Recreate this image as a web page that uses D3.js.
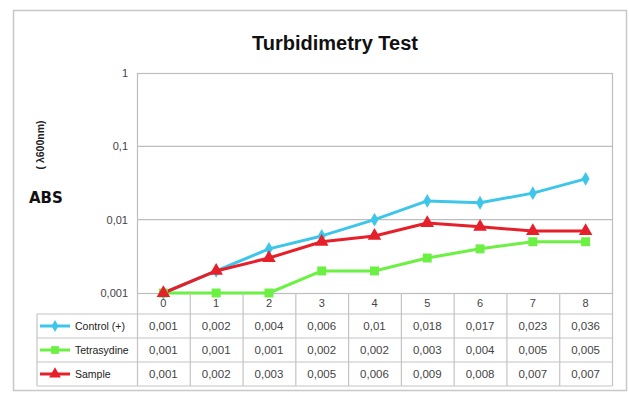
<!DOCTYPE html>
<html>
<head>
<meta charset="utf-8">
<script src="https://cdn.jsdelivr.net/npm/d3@7"></script>
<style>
  body { margin: 0; background: #fff; }
  svg { display: block; }
</style>
</head>
<body>
<svg id="chart" width="629" height="393"></svg>
<script>
const days = ["0", "1", "2", "3", "4", "5", "6", "7", "8"];
const control = [0.001, 0.002, 0.004, 0.006, 0.01, 0.018, 0.017, 0.023, 0.036];
const tetra = [0.001, 0.001, 0.001, 0.002, 0.002, 0.003, 0.004, 0.005, 0.005];
const sample = [0.001, 0.002, 0.003, 0.005, 0.006, 0.009, 0.008, 0.007, 0.007];
const seriesNames = ["Control  (+)", "Tetrasydine", "Sample"];
const yTicks = [0.001, 0.01, 0.1, 1];

const series = [
  { name: seriesNames[0], values: control, color: "#3ec6ea", shape: d3.symbolDiamond },
  { name: seriesNames[1], values: tetra, color: "#6cf043", shape: d3.symbolSquare },
  { name: seriesNames[2], values: sample, color: "#e5202a", shape: d3.symbolTriangle }
];

const svg = d3.select("#chart");
const plotL = 137, plotR = 612, plotT = 73, plotB = 293;

// outer frame
svg.append("rect")
  .attr("x", 13.5).attr("y", 10.5)
  .attr("width", 613).attr("height", 380)
  .attr("fill", "none").attr("stroke", "#c8c8c8").attr("stroke-width", 1.5);

const x = d3.scaleBand().domain(days).range([plotL, plotR]);
const y = d3.scaleLog().domain([0.001, 1]).range([plotB, plotT]);

// gridlines
svg.append("g")
  .selectAll("line")
  .data(yTicks.filter(t => t > 0.001 && t < 1))
  .join("line")
  .attr("x1", plotL).attr("x2", plotR)
  .attr("y1", d => y(d)).attr("y2", d => y(d))
  .attr("stroke", "#bdbdbd").attr("stroke-width", 1.2);

// plot border
svg.append("rect")
  .attr("x", plotL + 0.5).attr("y", plotT + 0.5)
  .attr("width", plotR - plotL).attr("height", plotB - plotT)
  .attr("fill", "none").attr("stroke", "#bdbdbd").attr("stroke-width", 1.2);

// y axis labels
svg.append("g")
  .selectAll("text")
  .data(yTicks)
  .join("text")
  .attr("x", 128)
  .attr("y", d => y(d))
  .attr("dy", "0.35em")
  .attr("text-anchor", "end")
  .attr("font-family", "Liberation Sans, Arial, sans-serif")
  .attr("font-size", 11)
  .attr("fill", "#444")
  .text(d => String(d).replace(".", ","));

// title
svg.append("text")
  .attr("x", 335).attr("y", 50)
  .attr("text-anchor", "middle")
  .attr("font-family", "Liberation Sans Narrow, Arial Narrow, sans-serif")
  .attr("font-weight", "bold")
  .attr("font-size", 20)
  .attr("fill", "#111")
  .text("Turbidimetry Test");

// axis title
svg.append("text")
  .attr("x", 29).attr("y", 203)
  .attr("font-family", "DejaVu Sans, sans-serif")
  .attr("font-weight", "bold")
  .attr("font-size", 15)
  .attr("fill", "#111")
  .text("ABS");

svg.append("text")
  .attr("transform", "translate(44,145) rotate(-90)")
  .attr("text-anchor", "middle")
  .attr("font-family", "Liberation Sans, Arial, sans-serif")
  .attr("font-weight", "bold")
  .attr("font-size", 10.5)
  .attr("fill", "#222")
  .text("( λ600nm)");

// lines and markers
const line = d3.line()
  .x((d, i) => x(days[i]) + x.bandwidth() / 2)
  .y(d => y(d));

series.forEach(s => {
  svg.append("path")
    .datum(s.values)
    .attr("fill", "none")
    .attr("stroke", s.color)
    .attr("stroke-width", 3)
    .attr("stroke-linejoin", "round")
    .attr("d", line);
});

series.forEach(s => {
  svg.append("g")
    .selectAll("path")
    .data(s.values)
    .join("path")
    .attr("transform", (d, i) => `translate(${x(days[i]) + x.bandwidth() / 2},${y(d)})`)
    .attr("d", d3.symbol().type(s.shape).size(s.shape === d3.symbolDiamond ? 55 : 80))
    .attr("fill", s.color);
});

// data table
const tableLeft = 37;
const rowH = [293, 314, 338, 362, 386];
const tbl = svg.append("g").attr("stroke", "#c4c4c4").attr("stroke-width", 1.2);

tbl.selectAll(".h")
  .data(rowH.slice(1))
  .join("line")
  .attr("x1", tableLeft).attr("x2", plotR)
  .attr("y1", d => d).attr("y2", d => d);

tbl.append("line")
  .attr("x1", tableLeft).attr("x2", tableLeft)
  .attr("y1", rowH[1]).attr("y2", rowH[4]);

tbl.selectAll(".v")
  .data(days.concat(["end"]))
  .join("line")
  .attr("x1", (d, i) => plotL + i * x.bandwidth() + 0.5)
  .attr("x2", (d, i) => plotL + i * x.bandwidth() + 0.5)
  .attr("y1", rowH[0]).attr("y2", rowH[4]);

// header labels
svg.append("g")
  .selectAll("text")
  .data(days)
  .join("text")
  .attr("x", d => x(d) + x.bandwidth() / 2)
  .attr("y", (rowH[0] + rowH[1]) / 2)
  .attr("dy", "0.35em")
  .attr("text-anchor", "middle")
  .attr("font-family", "Liberation Sans, Arial, sans-serif")
  .attr("font-size", 11)
  .attr("fill", "#444")
  .text(d => d);

series.forEach((s, r) => {
  const cy = (rowH[r + 1] + rowH[r + 2]) / 2;
  const row = svg.append("g");
  row.append("line")
    .attr("x1", 40).attr("x2", 70)
    .attr("y1", cy).attr("y2", cy)
    .attr("stroke", s.color).attr("stroke-width", 3);
  row.append("path")
    .attr("transform", `translate(55,${cy})`)
    .attr("d", d3.symbol().type(s.shape).size(s.shape === d3.symbolDiamond ? 40 : 60))
    .attr("fill", s.color);
  row.append("text")
    .attr("x", 75).attr("y", cy)
    .attr("dy", "0.35em")
    .attr("font-family", "Liberation Sans Narrow, Arial Narrow, sans-serif")
    .attr("font-size", 10.5)
    .attr("fill", "#222")
    .text(s.name);
  row.selectAll(".v")
    .data(s.values)
    .join("text")
    .attr("x", (d, i) => x(days[i]) + x.bandwidth() / 2)
    .attr("y", cy)
    .attr("dy", "0.35em")
    .attr("text-anchor", "middle")
    .attr("font-family", "Liberation Sans, Arial, sans-serif")
    .attr("font-size", 11.5)
    .attr("fill", "#444")
    .text(d => String(d).replace(".", ","));
});
</script>
</body>
</html>
